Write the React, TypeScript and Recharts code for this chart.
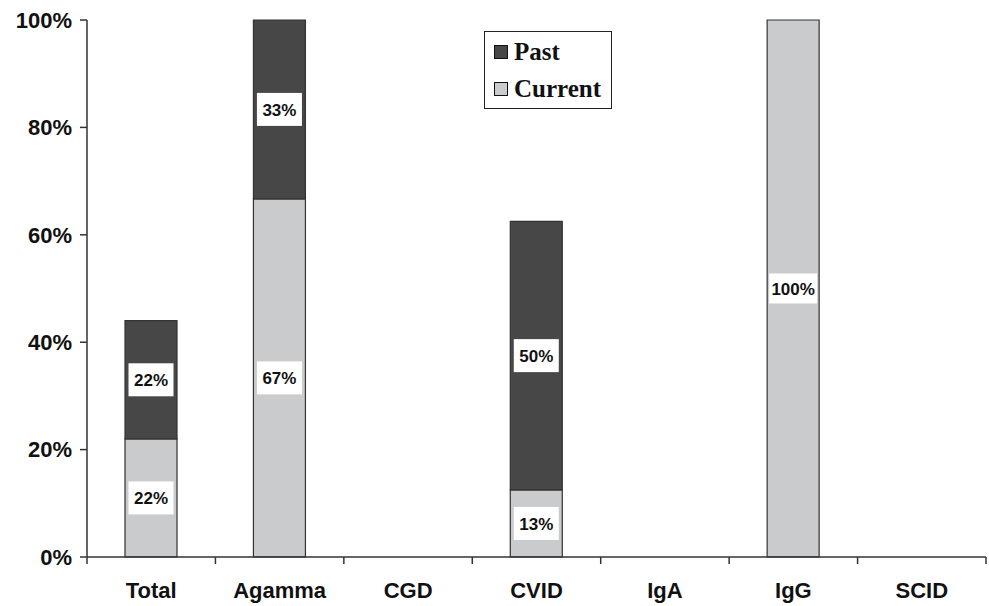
import React from 'react';
import { BarChart, Bar, XAxis, YAxis, LabelList } from 'recharts';

// Values (percent of group)
const CATEGORIES = ['Total', 'Agamma', 'CGD', 'CVID', 'IgA', 'IgG', 'SCID'];
const CURRENT = [22, 66.7, null, 12.5, null, 100, null];
const PAST = [22, 33.3, null, 50, null, null, null];
const Y_TICKS = [0, 20, 40, 60, 80, 100];

const W = 989;
const H = 606;
const MARGIN = { top: 20, right: 3, bottom: 8, left: 7 };
const Y_AXIS_W = 80;
const BAND = (W - MARGIN.left - MARGIN.right - Y_AXIS_W) / CATEGORIES.length;

const data = CATEGORIES.map((name, i) => ({
  name,
  current: CURRENT[i],
  past: PAST[i],
}));

const AXIS_COLOR = '#333';
const SANS = '"Liberation Sans", Arial, sans-serif';
const SERIF = '"Liberation Serif", "Times New Roman", serif';

function BoxLabel(props: any) {
  const { x, y, width, height, value } = props;
  if (value == null || !height) return null;
  const text = `${Math.round(value)}%`;
  const bw = text.length > 3 ? 48 : 45;
  const bh = text.length > 3 ? 30 : 33;
  const cx = x + width / 2;
  const cy = y + height / 2;
  return (
    <g>
      <rect x={cx - bw / 2} y={cy - bh / 2} width={bw} height={bh} fill="#fff" />
      <text
        x={cx}
        y={cy + 1}
        textAnchor="middle"
        dominantBaseline="central"
        fontFamily={SANS}
        fontWeight="bold"
        fontSize={17}
        fill="#111"
      >
        {text}
      </text>
    </g>
  );
}

function XTick(props: any) {
  const { x, y, payload, index } = props;
  const last = index === CATEGORIES.length - 1;
  return (
    <g>
      <line x1={x - BAND / 2} y1={y - 8} x2={x - BAND / 2} y2={y - 1} stroke={AXIS_COLOR} strokeWidth={1.5} />
      {last && (
        <line x1={x + BAND / 2} y1={y - 8} x2={x + BAND / 2} y2={y - 1} stroke={AXIS_COLOR} strokeWidth={1.5} />
      )}
      <text
        x={x}
        y={y + 33}
        textAnchor="middle"
        fontFamily={SANS}
        fontWeight="bold"
        fontSize={22}
        fill="#111"
      >
        {payload.value}
      </text>
    </g>
  );
}

function LegendBox() {
  const item = (color: string, label: string) => (
    <div style={{ display: 'flex', alignItems: 'center', height: 37 }}>
      <span
        style={{
          display: 'inline-block',
          width: 12,
          height: 12,
          background: color,
          border: '1px solid #111',
          marginRight: 6,
        }}
      />
      <span style={{ fontFamily: SERIF, fontWeight: 'bold', fontSize: 25, color: '#111' }}>{label}</span>
    </div>
  );
  return (
    <div
      style={{
        position: 'absolute',
        left: 484,
        top: 31,
        border: '1px solid #222',
        background: '#fff',
        padding: '1px 4px 1px 9px',
        width: 113,
      }}
    >
      {item('#474747', 'Past')}
      {item('#cacbcd', 'Current')}
    </div>
  );
}

export default function App() {
  return (
    <div style={{ position: 'absolute', left: 0, top: 0, width: W, height: H, background: '#fff' }}>
      <BarChart width={W} height={H} data={data} margin={MARGIN} barSize={52}>
        <XAxis
          dataKey="name"
          axisLine={{ stroke: AXIS_COLOR, strokeWidth: 1.5 }}
          tickLine={false}
          tick={<XTick />}
          height={41}
          interval={0}
        />
        <YAxis
          width={Y_AXIS_W}
          domain={[0, 100]}
          ticks={Y_TICKS}
          tickFormatter={(v) => `${v}%`}
          axisLine={{ stroke: AXIS_COLOR, strokeWidth: 1.5 }}
          tickLine={{ stroke: AXIS_COLOR, strokeWidth: 1.5 }}
          tickSize={7}
          tickMargin={8}
          tick={{ fontFamily: SANS, fontWeight: 'bold', fontSize: 22, fill: '#111' }}
        />
        <Bar dataKey="current" stackId="a" fill="#cacbcd" stroke="#333" strokeWidth={1.2} isAnimationActive={false}>
          <LabelList dataKey="current" content={<BoxLabel />} />
        </Bar>
        <Bar dataKey="past" stackId="a" fill="#474747" stroke="#333" strokeWidth={1.2} isAnimationActive={false}>
          <LabelList dataKey="past" content={<BoxLabel />} />
        </Bar>
      </BarChart>
      <LegendBox />
    </div>
  );
}
